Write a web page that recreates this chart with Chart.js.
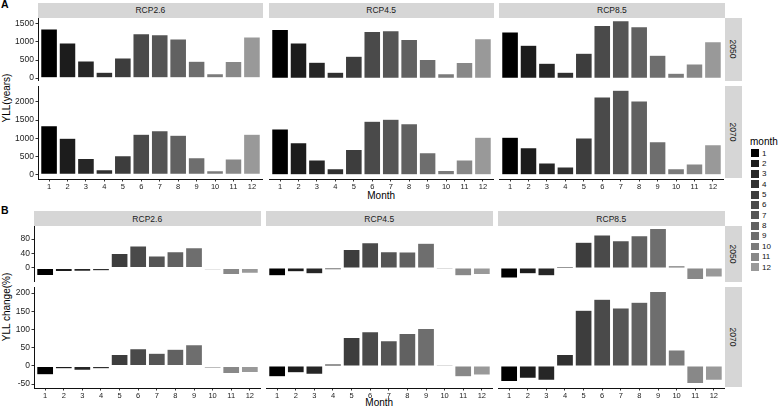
<!DOCTYPE html>
<html><head><meta charset="utf-8">
<script src="https://cdn.jsdelivr.net/npm/chart.js@4.4.1/dist/chart.umd.min.js"></script>
<style>
html,body{margin:0;padding:0;background:#fff;}
#root{position:relative;width:778px;height:408px;overflow:hidden;font-family:"Liberation Sans",Arial,Helvetica,sans-serif;color:#000;}
canvas{position:absolute;}
.strip{position:absolute;background:#d6d6d6;color:#1a1a1a;font-size:8.5px;display:flex;align-items:center;justify-content:center;}
.rs span{display:block;transform:rotate(90deg);white-space:nowrap;}
.t{position:absolute;white-space:nowrap;line-height:1;}
</style></head><body><div id="root"></div>
<script>
// ---------- data ----------
const months = [1,2,3,4,5,6,7,8,9,10,11,12];
const monthColors = ['#000000','#1c1c1c','#262626','#303030','#3d3d3d','#4a4a4a','#555555','#616161','#6e6e6e','#7b7b7b','#888888','#999999'];
const rcpLabels = ['RCP2.6','RCP4.5','RCP8.5'];
const yearLabels = ['2050','2070'];

// Panel A: YLL (years)
const yllRcp26y2050 = [1353, 969, 475, 165, 558, 1225, 1197, 1079, 466, 119, 457, 1133];
const yllRcp45y2050 = [1344, 969, 439, 165, 603, 1289, 1307, 1069, 512, 119, 430, 1088];
const yllRcp85y2050 = [1271, 905, 411, 165, 686, 1453, 1581, 1417, 631, 137, 393, 1005];
const yllRcp26y2070 = [1349, 1000, 450, 138, 523, 1110, 1211, 1083, 468, 110, 431, 1110];
const yllRcp45y2070 = [1257, 881, 404, 165, 697, 1468, 1523, 1404, 606, 119, 404, 1028];
const yllRcp85y2070 = [1028, 743, 321, 211, 1009, 2138, 2321, 2028, 908, 165, 294, 826];

// Panel B: YLL change (%)
const chgRcp26y2050 = [-21, -10, -9, -8, 40, 61, 33, 45, 56, -5, -18, -15];
const chgRcp45y2050 = [-22, -11, -16, -5, 51, 70, 45, 44, 68, -4, -22, -18];
const chgRcp85y2050 = [-28, -16, -22, 4, 71, 91, 75, 89, 109, 6, -32, -25];
const chgRcp26y2070 = [-24, -8, -12, -8, 31, 47, 35, 46, 58, -6, -21, -18];
const chgRcp45y2070 = [-30, -19, -23, 5, 78, 94, 69, 89, 103, 3, -30, -25];
const chgRcp85y2070 = [-43, -34, -39, 31, 153, 183, 159, 175, 204, 44, -48, -39];

// tick labels
const yTicksA2050 = [0, 500, 1000, 1500];
const yTicksA2070 = [0, 500, 1000, 1500, 2000];
const yTicksB2050 = [0, 40, 80];
const yTicksB2070 = [-50, 0, 50, 100, 150, 200];

// ---------- layout ----------
const FONT = '"Liberation Sans", Arial, Helvetica, sans-serif';
const root = document.getElementById('root');
function addText(txt, css){ const d=document.createElement('div'); d.className='t'; d.textContent=txt; Object.assign(d.style, css); root.appendChild(d); return d; }

const sections = [
  { key:'A', rows:[[yllRcp26y2050,yllRcp45y2050,yllRcp85y2050],[yllRcp26y2070,yllRcp45y2070,yllRcp85y2070]],
    ticks:[yTicksA2050,yTicksA2070], top:17.7, bottom:178.5, colLeft:[37.7,268.5,499.3], colW:225.3, YW:36,
    stripTop:3, title:'YLL(years)', letterTop:-1, monthTop:196 },
  { key:'B', rows:[[chgRcp26y2050,chgRcp45y2050,chgRcp85y2050],[chgRcp26y2070,chgRcp45y2070,chgRcp85y2070]],
    ticks:[yTicksB2050,yTicksB2070], top:226, bottom:387.4, colLeft:[34,266,498], colW:226.5, YW:32,
    stripTop:211, title:'YLL change(%)', letterTop:205, monthTop:403 }
];
const GAP = 4.5, XH = 14;

sections.forEach(sec => {
  // ggplot-like ranges (5% expansion of data range incl. 0), free_y space
  const ranges = sec.rows.map(row => {
    const all = row.flat();
    const lo = Math.min(0, ...all), hi = Math.max(0, ...all);
    const e = (hi - lo) * 0.05;
    return [lo - e, hi + e];
  });
  const spans = ranges.map(r => r[1]-r[0]);
  const avail = sec.bottom - sec.top - GAP;
  const heights = spans.map(s => avail * s / (spans[0]+spans[1]));
  const tops = [sec.top, sec.top + heights[0] + GAP];

  // column strips
  rcpLabels.forEach((lab,c)=>{
    const s=document.createElement('div'); s.className='strip';
    Object.assign(s.style,{left:sec.colLeft[c]+'px', top:sec.stripTop+'px', width:sec.colW+'px', height:(sec.top-sec.stripTop)+'px'});
    s.textContent=lab; root.appendChild(s);
  });
  // row strips
  yearLabels.forEach((lab,r)=>{
    const s=document.createElement('div'); s.className='strip rs';
    const x = sec.colLeft[2]+sec.colW;
    Object.assign(s.style,{left:x+'px', top:tops[r]+'px', width:(741.6-x)+'px', height:heights[r]+'px'});
    const sp=document.createElement('span'); sp.textContent=lab; s.appendChild(sp); root.appendChild(s);
  });
  // letter, titles
  addText(sec.key,{left:'1px', top:sec.letterTop+'px', fontSize:'10.5px', fontWeight:'bold'});
  const midY = (sec.top + sec.bottom)/2;
  addText(sec.title,{left:'7px', top:midY+'px', fontSize:'10px', transform:'translate(-50%,-50%) rotate(-90deg)'});
  const midX = (sec.colLeft[0] + sec.colLeft[2] + sec.colW)/2;
  addText('Month',{left:midX+'px', top:sec.monthTop+'px', fontSize:'10px', transform:'translate(-50%,-50%)'});

  sec.rows.forEach((row, r) => {
    const isBottom = r === 1;
    row.forEach((vals, c) => {
      const isLeft = c === 0;
      const cv = document.createElement('canvas');
      const left = sec.colLeft[c] - (isLeft ? sec.YW : 0);
      const w = sec.colW + (isLeft ? sec.YW : 0);
      const h = heights[r] + (isBottom ? XH : 0);
      cv.width = Math.round(w); cv.height = Math.round(h);
      cv.style.left = left + 'px'; cv.style.top = tops[r] + 'px';
      cv.style.width = Math.round(w) + 'px'; cv.style.height = Math.round(h) + 'px';
      root.appendChild(cv);
      const yTicks = sec.ticks[r];
      new Chart(cv, {
        type: 'bar',
        data: { datasets: [{
          data: months.map((m,i)=>({x:m, y:vals[i]})),
          backgroundColor: monthColors,
          borderColor: 'rgba(255,255,255,0.45)',
          borderWidth: 0.5,
          borderSkipped: false,
          barPercentage: 0.9,
          categoryPercentage: 1
        }]},
        options: {
          responsive:false, animation:false, devicePixelRatio:1,
          layout:{padding:0},
          plugins:{legend:{display:false}, tooltip:{enabled:false}},
          scales:{
            x:{ type:'linear', min:0.4, max:12.6, offset:false, display:isBottom,
                afterBuildTicks: s => { s.ticks = months.map(v=>({value:v})); },
                afterFit: s => { if (isBottom) s.height = XH; s.paddingLeft = 0; s.paddingRight = 0; },
                grid:{display:true, drawOnChartArea:false, drawTicks:true, tickLength:2.5, color:'#333', offset:false},
                border:{display:true, color:'#111', width:1},
                ticks:{font:{size:7.5, family:FONT}, color:'#222', padding:1, maxRotation:0, autoSkip:false, callback:v=>String(v)}
            },
            y:{ type:'linear', min:ranges[r][0], max:ranges[r][1], display:isLeft,
                afterBuildTicks: s => { s.ticks = yTicks.map(v=>({value:v})); },
                afterFit: s => { if (isLeft) s.width = sec.YW; s.paddingTop = 0; s.paddingBottom = 0; },
                grid:{display:true, drawOnChartArea:false, drawTicks:true, tickLength:2.5, color:'#333'},
                border:{display:true, color:'#111', width:1},
                ticks:{font:{size:8.5, family:FONT}, color:'#222', padding:1.5, autoSkip:false, callback:v=>String(v)}
            }
          }
        }
      });
    });
  });
});

// legend
addText('month',{left:'750px', top:'137px', fontSize:'10px'});
monthColors.forEach((col,i)=>{
  const y = 149.3 + i*10.36;
  const k=document.createElement('div');
  Object.assign(k.style,{position:'absolute', left:'751px', top:y+'px', width:'8.3px', height:'7.8px', background:col});
  root.appendChild(k);
  addText(String(months[i]),{left:'762px', top:(y+0.3)+'px', fontSize:'8px', color:'#111'});
});
</script></body></html>
